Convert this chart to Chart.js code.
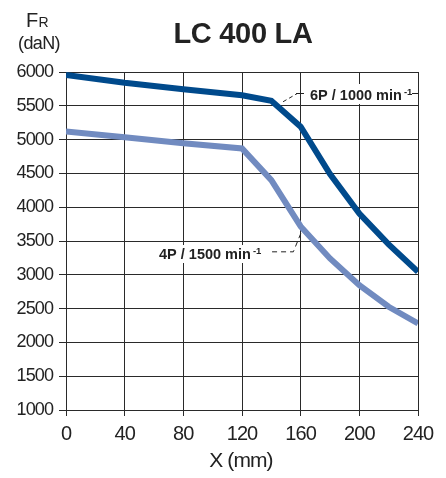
<!DOCTYPE html>
<html><head><meta charset="utf-8">
<script src="https://cdn.jsdelivr.net/npm/chart.js@4"></script>
<style>html,body{margin:0;padding:0;background:#fff}#wrap{width:446px;height:478px;position:relative}</style>
</head><body><div id="wrap"><canvas id="c" width="446" height="478"></canvas></div>
<script>
const xValues = [0, 40, 80, 120, 140, 160, 180, 200, 220, 240];
const series6P = [5955, 5840, 5745, 5656, 5575, 5190, 4490, 3905, 3450, 3044];
const series4P = [5120, 5035, 4945, 4870, 4400, 3715, 3242, 2847, 2527, 2281];
const label6P = "6P / 1000 min";
const label4P = "4P / 1500 min";
const supText = "-1";
const titleText = "LC 400 LA";
const xTitle = "X (mm)";
const SANS = "'Liberation Sans', Arial, sans-serif";

const pts = arr => xValues.map((x, i) => ({x, y: arr[i]}));

const spacingPlugin = {
  id: 'spacing',
  beforeDraw(chart) { chart.ctx.letterSpacing = '-0.9px'; }
};

const textPlugin = {
  id: 'texts',
  afterDatasetsDraw(chart) {
    const ctx = chart.ctx, xs = chart.scales.x, ys = chart.scales.y;
    ctx.save();
    ctx.letterSpacing = '0px';
    // title
    ctx.fillStyle = '#222';
    ctx.font = "bold 29px " + SANS;
    ctx.textAlign = 'center'; ctx.textBaseline = 'alphabetic';
    ctx.letterSpacing = '-0.3px';
    ctx.fillText(titleText, 243, 43);
    ctx.letterSpacing = '-0.6px';
    // FR
    ctx.textAlign = 'left';
    ctx.font = "20px " + SANS;
    ctx.fillText("F", 26, 27);
    const fw = ctx.measureText("F").width;
    ctx.font = "14px " + SANS;
    ctx.fillText("R", 26 + fw + 1, 27);
    ctx.textAlign = 'center';
    ctx.font = "18px " + SANS;
    ctx.fillText("(daN)", 39, 49);
    // x title
    ctx.letterSpacing = '-0.9px';
    ctx.font = "21px " + SANS;
    ctx.fillText(xTitle, 241, 467);

    ctx.letterSpacing = '0px';
    function label(text, x0, baseline, boxX0, boxX1, boxY0, boxY1) {
      ctx.fillStyle = '#fff';
      ctx.fillRect(boxX0, boxY0, boxX1 - boxX0, boxY1 - boxY0);
      ctx.fillStyle = '#222';
      ctx.textAlign = 'left';
      ctx.font = "bold 14.5px " + SANS;
      ctx.fillText(text, x0, baseline);
      const w = ctx.measureText(text).width;
      ctx.font = "bold 9.5px " + SANS;
      ctx.fillText(supText, x0 + w + 2, baseline - 5);
    }
    // 6P label
    label(label6P, 310, 100, 303, 413, 84, 104);
    ctx.strokeStyle = '#222'; ctx.lineWidth = 1;
    ctx.beginPath(); ctx.moveTo(296, 93.5); ctx.lineTo(304, 93.5);
    ctx.moveTo(412, 93.5); ctx.lineTo(418, 93.5); ctx.stroke();
    ctx.setLineDash([4, 3]);
    ctx.beginPath();
    ctx.moveTo(xs.getPixelForValue(148), ys.getPixelForValue(5560));
    ctx.lineTo(xs.getPixelForValue(157.5), ys.getPixelForValue(5680));
    ctx.stroke();
    ctx.setLineDash([]);
    // 4P label
    label(label4P, 159, 259, 152, 264, 245, 263);
    ctx.setLineDash([5, 4]);
    ctx.beginPath();
    ctx.moveTo(xs.getPixelForValue(140.5), ys.getPixelForValue(3340));
    ctx.lineTo(xs.getPixelForValue(155), ys.getPixelForValue(3340));
    ctx.lineTo(xs.getPixelForValue(161), ys.getPixelForValue(3660));
    ctx.stroke();
    ctx.restore();
  }
};

new Chart(document.getElementById('c'), {
  type: 'line',
  data: {
    datasets: [
      {data: pts(series6P), borderColor: '#004a8c', borderWidth: 6, pointRadius: 0, tension: 0, fill: false, borderJoinStyle: 'miter'},
      {data: pts(series4P), borderColor: '#718bc0', borderWidth: 6, pointRadius: 0, tension: 0, fill: false, borderJoinStyle: 'miter'}
    ]
  },
  options: {
    responsive: false, animation: false, devicePixelRatio: 1,
    layout: {padding: {top: 72, right: 28, left: 0, bottom: 0}},
    plugins: {legend: {display: false}, tooltip: {enabled: false}, title: {display: false}},
    scales: {
      x: {
        type: 'linear', min: 0, max: 240,
        afterFit(s) { s.height = 68; },
        ticks: {stepSize: 40, color: '#222', font: {family: SANS, size: 20}, padding: 6, maxRotation: 0},
        grid: {color: '#2a2a2a', lineWidth: 1, tickLength: 6, tickColor: '#2a2a2a'},
        border: {color: '#2a2a2a', width: 1}
      },
      y: {
        min: 1000, max: 6000,
        afterFit(s) { s.width = 66; },
        ticks: {stepSize: 250, color: '#222', font: {family: SANS, size: 18}, padding: 6,
          callback: v => (v % 500 === 0 ? String(v) : '')},
        grid: {color: '#2a2a2a', lineWidth: 1, tickLength: 7,
          tickColor: c => (c.tick && c.tick.value % 500 === 0 ? '#2a2a2a' : 'rgba(0,0,0,0)')},
        border: {color: '#2a2a2a', width: 1}
      }
    }
  },
  plugins: [spacingPlugin, textPlugin]
});
</script></body></html>
